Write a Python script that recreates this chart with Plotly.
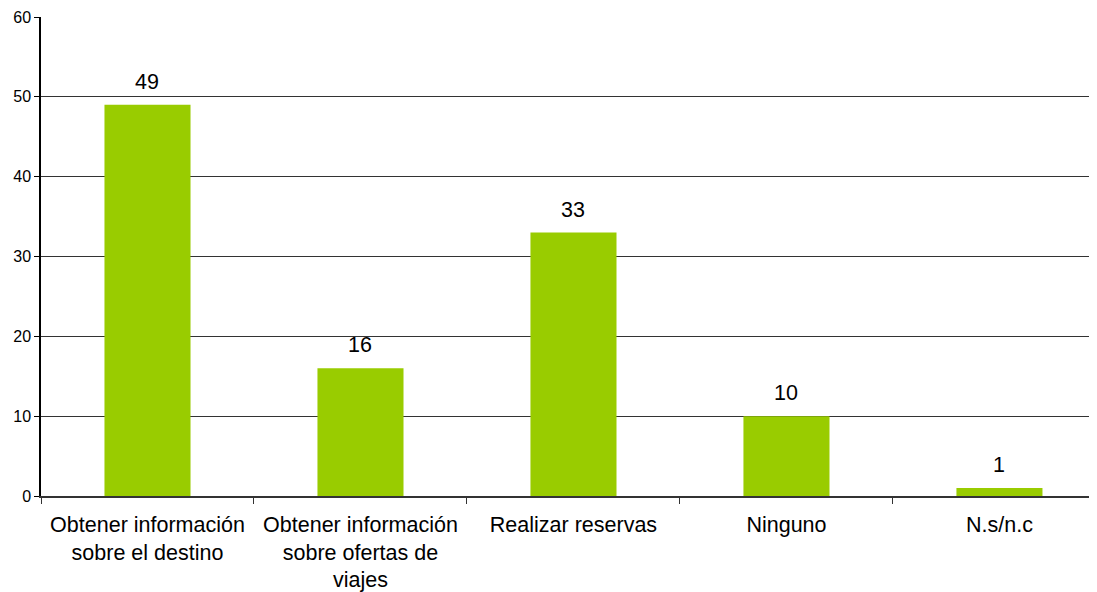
import plotly.graph_objects as go

categories = ["Obtener información<br>sobre el destino",
              "Obtener información<br>sobre ofertas de<br>viajes",
              "Realizar reservas",
              "Ninguno",
              "N.s/n.c"]
values = [49, 16, 33, 10, 1]
y_ticks = [0, 10, 20, 30, 40, 50, 60]

FONT = "Liberation Sans, Arial, sans-serif"

fig = go.Figure(go.Bar(
    x=categories, y=values,
    marker=dict(color="#99CC00", line=dict(width=0)),
    width=0.404,
))

for c, v in zip(categories, values):
    fig.add_annotation(x=c, y=v, text=str(v), showarrow=False,
                       yanchor="bottom", yshift=9,
                       font=dict(family=FONT, size=21.5, color="#000000"))

# body has an 8px default margin, so compensate; the original chart is cut at the right edge
fig.update_layout(
    width=1089, height=584,
    margin=dict(l=33, r=0, t=9, b=96, autoexpand=False),
    paper_bgcolor="white", plot_bgcolor="white",
    showlegend=False,
    font=dict(family=FONT, color="#000000"),
)
fig.update_xaxes(
    type="category", range=[-0.5, 4.458],
    tickson="boundaries", ticks="outside", ticklen=6,
    tickcolor="#333333", showline=True, linecolor="#333333", linewidth=1.5,
    tickfont=dict(size=21.5), showgrid=False, automargin=False,
    ticklabelstandoff=8,
)
fig.update_yaxes(
    range=[0, 60], tickvals=y_ticks, ticks="outside", ticklen=5,
    tickcolor="#000000", showline=True, linecolor="#000000", linewidth=1.5,
    showgrid=True, gridcolor="#333333", gridwidth=1,
    tickfont=dict(size=16), zeroline=False, automargin=False,
)
fig.write_html("out.html")
